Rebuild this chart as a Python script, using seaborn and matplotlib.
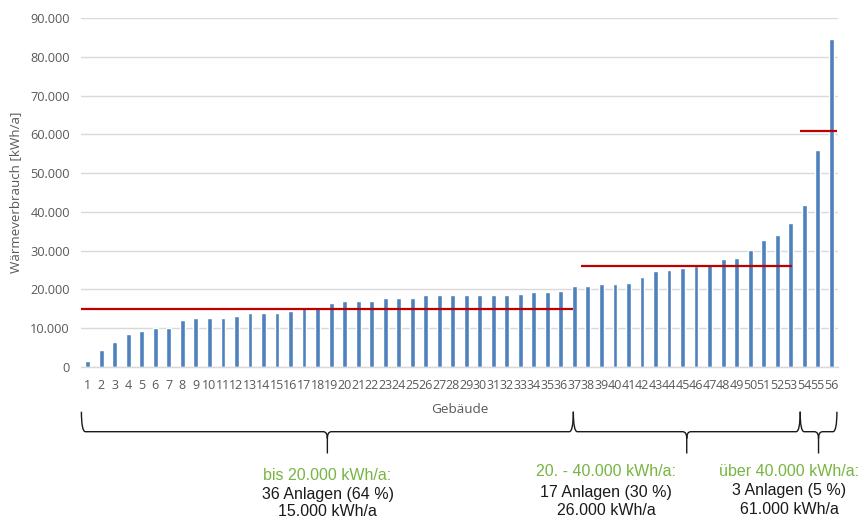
import matplotlib
matplotlib.use("Agg")
import matplotlib.pyplot as plt
import pandas as pd
import seaborn as sns
from matplotlib.path import Path
from matplotlib.patches import PathPatch
from matplotlib.transforms import blended_transform_factory
from matplotlib.ticker import FuncFormatter, MultipleLocator

# Heat consumption per building, sorted ascending (kWh/a)
buildings = [str(i) for i in range(1, 57)]
consumption = [
    1500, 4300, 6500, 8400, 9300, 9900, 10100, 12100, 12500, 12700,
    12700, 13100, 13800, 13800, 13900, 14500, 15200, 15400, 16400, 16900,
    16900, 16900, 17800, 17800, 17800, 18500, 18500, 18500, 18500, 18500,
    18500, 18500, 18800, 19400, 19400, 19600,
    20900, 20900, 21300, 21300, 21600, 23300, 24700, 25100, 25600, 26000,
    26200, 27900, 28100, 30200, 32700, 33900, 37200,
    41800, 55900, 84700,
]

# Consumption classes
group_titles = ["bis 20.000 kWh/a:", "20. - 40.000 kWh/a:", "über 40.000 kWh/a:"]
group_counts = [36, 17, 3]
group_shares = [64, 30, 5]
group_means = [15000, 26000, 61000]

BAR_BLUE = "#4F81BD"
MEAN_RED = "#C00000"
GREEN = "#77B441"
GRAY_TEXT = "#595959"
GRID = "#D9D9D9"

sns.set_theme(style="white")
plt.rcParams["font.family"] = ["Open Sans", "DejaVu Sans"]

W, H = 861, 521
fig = plt.figure(figsize=(W / 100, H / 100), dpi=100)
ax = fig.add_axes([81 / W, 1 - 366.7 / H, (838 - 81) / W, (366.7 - 18.3) / H])

df = pd.DataFrame({"Gebäude": buildings, "Wärmeverbrauch": consumption})
sns.barplot(data=df, x="Gebäude", y="Wärmeverbrauch", color=BAR_BLUE,
            saturation=1, width=0.36, ax=ax, zorder=2)

ax.set_xlim(-0.5, len(buildings) - 0.5)
ax.set_ylim(0, 90000)
ax.yaxis.set_major_locator(MultipleLocator(10000))
ax.yaxis.set_major_formatter(FuncFormatter(lambda v, _: f"{int(v):,}".replace(",", ".")))
ax.set_axisbelow(True)
ax.grid(axis="y", color=GRID, linewidth=1.0)
ax.grid(axis="x", visible=False)
for side in ("top", "right", "left"):
    ax.spines[side].set_visible(False)
ax.spines["bottom"].set_color(GRID)
ax.spines["bottom"].set_linewidth(1.0)

ax.tick_params(axis="x", length=0, pad=8.5, labelsize=9.0, labelcolor=GRAY_TEXT)
ax.tick_params(axis="y", length=0, pad=8, labelsize=9.2, labelcolor=GRAY_TEXT)
ax.set_xlabel("Gebäude", fontsize=9.7, color=GRAY_TEXT, labelpad=8)
ax.set_ylabel("Wärmeverbrauch [kWh/a]", fontsize=9.6, color=GRAY_TEXT, labelpad=6)

# Mean line of each consumption class
mean_line_spans = [(-0.5, 35.9), (36.5, 52.1), (52.7, 55.4)]
for (x0, x1), m in zip(mean_line_spans, group_means):
    ax.hlines(m, x0, x1, color=MEAN_RED, linewidth=1.6, zorder=3)

# Curly braces below the axis, one per class
brace_edges = [-0.47, 35.92, 52.7, 55.42]
trans = blended_transform_factory(ax.transData, fig.transFigure)
y_top = 1 - 411.7 / H
y_mid = 1 - 431.7 / H
y_bend = 1 - 438.5 / H
y_tip = 1 - 453.5 / H
d = 0.3
for x0, x1 in zip(brace_edges[:-1], brace_edges[1:]):
    xm = (x0 + x1) / 2
    verts = [
        (x0, y_top), (x0, y_mid), (x0 + d, y_mid),
        (xm - d, y_mid), (xm, y_mid), (xm, y_bend),
        (xm, y_tip),
        (xm, y_bend), (xm, y_mid), (xm + d, y_mid),
        (x1 - d, y_mid), (x1, y_mid), (x1, y_top),
    ]
    codes = [
        Path.MOVETO, Path.CURVE3, Path.CURVE3,
        Path.LINETO, Path.CURVE3, Path.CURVE3,
        Path.LINETO,
        Path.MOVETO, Path.CURVE3, Path.CURVE3,
        Path.LINETO, Path.CURVE3, Path.CURVE3,
    ]
    fig.add_artist(PathPatch(Path(verts, codes), transform=trans, fill=False,
                             edgecolor="#1A1A1A", linewidth=1.0, clip_on=False))

# Class descriptions
text_x = [327.5, 606, 789]
text_rows = [(475, 494.5, 512), (471.5, 492, 510.5), (471, 491, 510)]
for title, n, share, m, x, rows in zip(group_titles, group_counts, group_shares,
                                        group_means, text_x, text_rows):
    lines = [
        (title, GREEN),
        (f"{n} Anlagen ({share} %)", "#1A1A1A"),
        (f"{m:,} kWh/a".replace(",", "."), "#1A1A1A"),
    ]
    for (txt, col), y in zip(lines, rows):
        fig.text(x / W, 1 - y / H, txt, ha="center", va="center", color=col,
                 fontsize=11.5, family=["Liberation Sans", "DejaVu Sans"])

fig.savefig("out.png", dpi=100)
